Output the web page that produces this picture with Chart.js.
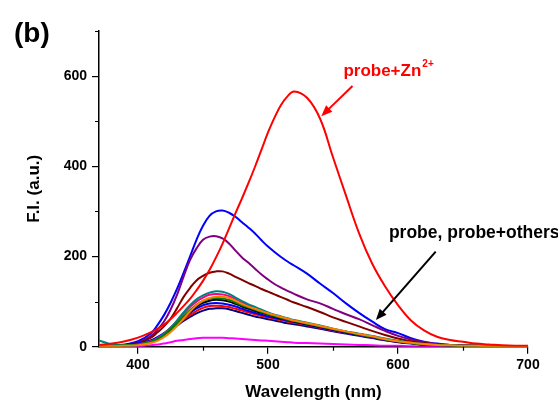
<!DOCTYPE html>
<html>
<head>
<meta charset="utf-8">
<script src="https://cdn.jsdelivr.net/npm/chart.js@4"></script>
<style>
  body { margin: 0; background: #fff; }
  #wrap { width: 558px; height: 402px; }
</style>
</head>
<body>
<div id="wrap"><canvas id="myChart" width="558" height="402"></canvas></div>
<script>
// wavelength grid (nm)
const wavelengths = [370,380,390,400,410,415,420,425,430,435,440,445,450,455,460,465,470,475,480,485,490,495,500,505,510,515,520,530,540,550,560,570,580,590,600,610,620,630,640,650,660,670,680,690,700];

// probe + Zn2+
const zn = [4,7,12,20,32, 40,49,61,75,90,106,125,146,170,198,228,262,296,329,363,399,437,475,508,536,555,566, 552,506,420,335,252,185,134,92,58,36,22,15,11,7,5,3,2,2];
// probe, probe + other ions
const blueTop = [3,3,5,12,30, 48,70,97,128,163,200,237,268,290,300,302,297,288,276,264,251,236,222,210,199,189,180, 162,140,119,96,75,56,39,30,19,11,7,4,3,2,2,1,1];
const purple = [2,2,4,9,24, 38,56,82,115,155,192,218,237,244,245,240,229,213,198,186,173,160,149,139,131,124,117, 105,96,84,72,61,48,35,24,16,10,6,4,3,2,1,1,1,1];
const maroon = [2,2,4,8,20, 32,45,62,85,110,130,147,157,164,167,167,162,155,148,141,135,128,122,116,110,104,98, 88,77,65,55,45,35,26,18,12,8,5,3,2,2,1,1,1,1];
const teal = [14,5,3,4,11, 18,28,42,58,76,92,105,114,120,123,122,117,109,101,94,88,82,76,71,67,63,59, 53,47,40,34,29,24,18,13,9,6,4,3,2,2,1,1,1,1];
const pink = [2,2,3,5,12, 19,29,42,57,73,88,100,109,115,117,116,112,105,97,91,85,79,74,70,66,62,58, 52,46,39,33,28,23,17,12,9,6,4,3,2,2,1,1,1,1];
const orange = [1,1,2,3,8, 13,21,32,46,62,78,92,102,108,111,111,108,102,95,89,84,79,74,70,66,62,58, 52,46,40,34,28,23,17,12,9,6,4,3,2,2,1,1,1,1];
const green = [2,2,3,5,11, 17,26,38,52,67,81,93,101,106,108,107,104,98,92,87,82,77,72,68,64,60,57, 51,45,39,33,27,22,16,12,8,5,4,3,2,2,1,1,1,1];
const black = [2,2,3,5,11, 17,26,37,50,64,78,89,97,102,104,103,100,95,89,84,79,75,71,67,63,60,56, 50,44,38,32,27,22,16,11,8,5,4,3,2,2,1,1,1,1];
const blue2 = [2,2,4,7,14, 21,30,40,52,64,75,85,92,96,97,96,93,89,84,79,75,71,67,64,61,58,55, 49,43,37,31,26,21,15,11,8,5,4,3,2,2,1,1,1,1];
const red2 = [2,2,3,6,12, 18,27,37,48,60,70,79,86,90,91,90,88,84,80,76,72,68,65,62,59,56,53, 48,42,36,31,26,21,15,11,8,5,4,3,2,2,1,1,1,1];
const navy = [2,2,4,7,14, 20,28,37,47,57,66,74,80,84,85,85,83,79,75,71,67,64,61,58,55,52,50, 45,40,34,29,24,19,14,10,7,5,3,2,2,1,1,1,1,1];
const magenta = [0,0,0,1,3, 5,7,10,13,15,17,19,20,20,20,20,19,18,17,16,15,14,13,12,11,10,9, 8,7,6,5,4,3,2,2,1,1,1,0,0,0,0,0,0,0];

// ticks
const xTicks = [400, 500, 600, 700];
const xMinorTicks = [450, 550, 650];
const yTicks = [0, 200, 400, 600];
const yMinorTicks = [100, 300, 500, 700];

const FONT = "'Liberation Sans', Arial, sans-serif";

function pts(arr) {
    return arr.map((v, i) => ({x: wavelengths[i], y: v}));
}

function line(arr, color) {
    return {
        data: pts(arr),
        borderColor: color,
        borderWidth: 2,
        pointRadius: 0,
        tension: 0.4,
        fill: false
    };
}

// dataset 0 is drawn on top
const datasets = [
    line(zn, '#FF0000'),
    line(orange, '#FF8000'),
    line(green, '#008000'),
    line(teal, '#008080'),
    line(pink, '#FF0080'),
    line(black, '#000000'),
    line(blue2, '#0000FF'),
    line(red2, '#FF0000'),
    line(navy, '#000080'),
    line(maroon, '#800000'),
    line(purple, '#800080'),
    line(blueTop, '#0000FF'),
    line(magenta, '#FF00FF')
];

function arrow(ctx, x1, y1, x2, y2, color) {
    const ang = Math.atan2(y2 - y1, x2 - x1);
    const len = 11, half = 4.5;
    ctx.strokeStyle = color;
    ctx.fillStyle = color;
    ctx.lineWidth = 2;
    ctx.beginPath();
    ctx.moveTo(x1, y1);
    ctx.lineTo(x2 - Math.cos(ang) * len * 0.8, y2 - Math.sin(ang) * len * 0.8);
    ctx.stroke();
    ctx.beginPath();
    ctx.moveTo(x2, y2);
    ctx.lineTo(x2 - Math.cos(ang) * len - Math.sin(ang) * half, y2 - Math.sin(ang) * len + Math.cos(ang) * half);
    ctx.lineTo(x2 - Math.cos(ang) * len + Math.sin(ang) * half, y2 - Math.sin(ang) * len - Math.cos(ang) * half);
    ctx.closePath();
    ctx.fill();
}

const extras = {
    id: 'extras',
    afterDraw(chart) {
        const ctx = chart.ctx;
        const xs = chart.scales.x, ys = chart.scales.y;
        const area = chart.chartArea;
        ctx.save();
        // minor ticks
        ctx.strokeStyle = '#000';
        ctx.lineWidth = 1.2;
        ctx.beginPath();
        xMinorTicks.forEach(v => {
            const px = Math.round(xs.getPixelForValue(v)) + 0.5;
            ctx.moveTo(px, area.bottom);
            ctx.lineTo(px, area.bottom + 4);
        });
        yMinorTicks.forEach(v => {
            const py = Math.round(ys.getPixelForValue(v)) + 0.5;
            ctx.moveTo(area.left - 4, py);
            ctx.lineTo(area.left, py);
        });
        ctx.stroke();

        // panel label
        ctx.fillStyle = '#000';
        ctx.font = "bold 28px " + FONT;
        ctx.textBaseline = 'alphabetic';
        ctx.textAlign = 'left';
        ctx.fillText('(b)', 14, 42);

        // probe+Zn2+
        ctx.fillStyle = '#FF0000';
        ctx.font = "bold 17px " + FONT;
        const lx = xs.getPixelForValue(558), ly = ys.getPixelForValue(600);
        ctx.fillText('probe+Zn', lx, ly);
        const w = ctx.measureText('probe+Zn').width;
        ctx.font = "bold 10px " + FONT;
        ctx.fillText('2+', lx + w + 1, ly - 9);
        arrow(ctx, xs.getPixelForValue(565), ys.getPixelForValue(578),
              xs.getPixelForValue(541), ys.getPixelForValue(511), '#FF0000');

        // probe, probe+others
        ctx.fillStyle = '#000';
        ctx.font = "bold 17.5px " + FONT;
        ctx.fillText('probe, probe+others', xs.getPixelForValue(593), ys.getPixelForValue(241));
        arrow(ctx, xs.getPixelForValue(629), ys.getPixelForValue(211),
              xs.getPixelForValue(583), ys.getPixelForValue(59), '#000');
        ctx.restore();
    }
};

const myChart = new Chart(document.getElementById('myChart'), {
    type: 'line',
    data: { datasets: datasets },
    options: {
        responsive: false,
        animation: false,
        events: [],
        layout: { padding: { top: 31, right: 30, left: 0, bottom: 0 } },
        plugins: { legend: { display: false }, tooltip: { enabled: false } },
        scales: {
            x: {
                type: 'linear',
                min: 370,
                max: 700,
                afterBuildTicks: s => { s.ticks = xTicks.map(v => ({value: v})); },
                afterFit: s => { s.height = 55.3; },
                grid: { drawOnChartArea: false, drawTicks: true, tickLength: 7, color: '#000', lineWidth: 1.2 },
                border: { display: true, color: '#000', width: 1.5 },
                ticks: { color: '#000', font: { family: FONT, size: 14, weight: 'bold' }, padding: 3, maxRotation: 0 },
                title: { display: true, text: 'Wavelength (nm)', color: '#000', font: { family: FONT, size: 17, weight: 'bold' }, padding: { top: 0, bottom: -1 } }
            },
            y: {
                type: 'linear',
                min: 0,
                max: 700,
                afterBuildTicks: s => { s.ticks = yTicks.map(v => ({value: v})); },
                afterFit: s => { s.width = 99; },
                grid: { drawOnChartArea: false, drawTicks: true, tickLength: 7, color: '#000', lineWidth: 1.2 },
                border: { display: true, color: '#000', width: 1.5 },
                ticks: { color: '#000', font: { family: FONT, size: 14, weight: 'bold' }, padding: 5 },
                title: { display: true, text: 'F.I. (a.u.)', color: '#000', font: { family: FONT, size: 17, weight: 'bold' }, padding: { top: 24, bottom: 0 } }
            }
        }
    },
    plugins: [extras]
});
</script>
</body>
</html>
